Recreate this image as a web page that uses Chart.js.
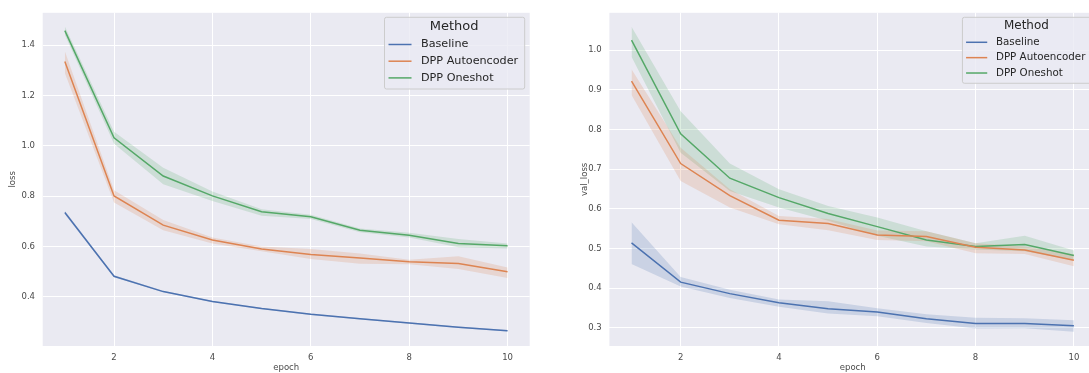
<!DOCTYPE html>
<html>
<head>
<meta charset="utf-8">
<script src="https://cdn.jsdelivr.net/npm/chart.js@4.4.1/dist/chart.umd.min.js"></script>
<style>
html,body{margin:0;padding:0;background:#fff;width:1089px;height:373px;overflow:hidden;position:relative}
canvas{position:absolute;top:0}
#lossChart{left:0}
#valChart{left:560px}
</style>
</head>
<body>
<canvas id="lossChart" width="545" height="373"></canvas>
<canvas id="valChart" width="545" height="373"></canvas>
<script>
// epochs and tick positions
const epochs = [1, 2, 3, 4, 5, 6, 7, 8, 9, 10];
const xTicks = [2, 4, 6, 8, 10];
const lossTicks = [0.4, 0.6, 0.8, 1.0, 1.2, 1.4];
const valTicks = [0.3, 0.4, 0.5, 0.6, 0.7, 0.8, 0.9, 1.0];
const methods = ['Baseline', 'DPP Autoencoder', 'DPP Oneshot'];

// training loss: mean with confidence band
const lossBaseline   = [0.735, 0.482, 0.421, 0.382, 0.354, 0.331, 0.313, 0.296, 0.279, 0.266];
const lossBaselineLo = [0.728, 0.478, 0.418, 0.379, 0.351, 0.328, 0.310, 0.293, 0.276, 0.263];
const lossBaselineHi = [0.742, 0.486, 0.424, 0.385, 0.357, 0.334, 0.316, 0.299, 0.282, 0.269];
const lossAuto   = [1.335, 0.801, 0.685, 0.626, 0.590, 0.568, 0.554, 0.540, 0.533, 0.500];
const lossAutoLo = [1.289, 0.775, 0.665, 0.612, 0.581, 0.550, 0.532, 0.530, 0.511, 0.475];
const lossAutoHi = [1.375, 0.823, 0.705, 0.636, 0.600, 0.590, 0.572, 0.547, 0.561, 0.517];
const lossOne   = [1.457, 1.032, 0.880, 0.801, 0.738, 0.718, 0.665, 0.645, 0.612, 0.603];
const lossOneLo = [1.441, 1.008, 0.847, 0.781, 0.722, 0.709, 0.657, 0.636, 0.597, 0.592];
const lossOneHi = [1.474, 1.056, 0.913, 0.818, 0.748, 0.726, 0.672, 0.655, 0.630, 0.612];

// validation loss
const valBaseline   = [0.514, 0.415, 0.386, 0.363, 0.348, 0.340, 0.323, 0.311, 0.311, 0.305];
const valBaselineLo = [0.461, 0.404, 0.375, 0.353, 0.336, 0.329, 0.312, 0.298, 0.299, 0.290];
const valBaselineHi = [0.566, 0.428, 0.396, 0.371, 0.367, 0.349, 0.334, 0.325, 0.324, 0.319];
const valAuto   = [0.922, 0.714, 0.633, 0.571, 0.563, 0.534, 0.530, 0.503, 0.496, 0.470];
const valAutoLo = [0.887, 0.670, 0.603, 0.561, 0.546, 0.521, 0.518, 0.488, 0.486, 0.455];
const valAutoHi = [0.952, 0.754, 0.649, 0.582, 0.574, 0.545, 0.543, 0.513, 0.505, 0.485];
const valOne   = [1.025, 0.789, 0.677, 0.628, 0.588, 0.555, 0.521, 0.505, 0.510, 0.482];
const valOneLo = [0.983, 0.741, 0.645, 0.603, 0.570, 0.532, 0.505, 0.497, 0.493, 0.470];
const valOneHi = [1.059, 0.846, 0.714, 0.649, 0.607, 0.578, 0.543, 0.513, 0.532, 0.495];

const palette = [[76, 114, 176], [221, 132, 82], [85, 168, 104]];
const FONT = '"DejaVu Sans", sans-serif';
const TEXT = '#262626';

const pts = ys => ys.map((y, i) => ({x: epochs[i], y}));
const rgb = (c, a) => `rgba(${c[0]},${c[1]},${c[2]},${a})`;

function series(i, mean, lo, hi){
  const c = palette[i];
  return [
    {label: methods[i] + ' hi', data: pts(hi), borderWidth: 0, pointRadius: 0, fill: '+1', backgroundColor: rgb(c, 0.2), order: 2},
    {label: methods[i] + ' lo', data: pts(lo), borderWidth: 0, pointRadius: 0, fill: false, order: 2},
    {label: methods[i], data: pts(mean), borderColor: rgb(c, 1), borderWidth: 1.5, pointRadius: 0, fill: false, order: 1, legend: true}
  ];
}

// grey panel behind the plot
const panel = {
  id: 'panel',
  beforeDraw(chart){
    const {ctx, chartArea: a} = chart;
    ctx.save();
    ctx.fillStyle = '#eaeaf2';
    ctx.fillRect(a.left, a.top, a.right - a.left, a.bottom - a.top);
    ctx.restore();
  }
};

// "Method" legend box in the upper right of the plot
const methodLegend = {
  id: 'methodLegend',
  afterDatasetsDraw(chart, args, o){
    const {ctx, chartArea: a} = chart;
    const s = o.scale;
    const items = chart.data.datasets.filter(d => d.legend);
    ctx.save();
    ctx.font = `${11.2 * s}px ${FONT}`;
    const textW = Math.max(...items.map(d => ctx.measureText(d.label).width));
    const w = 43 * s + textW, h = 71.7 * s;
    const x = a.right - 5.5 * s - w, y = a.top + 4;
    ctx.fillStyle = 'rgba(234,234,242,0.8)';
    ctx.strokeStyle = '#cccccc';
    ctx.lineWidth = 1;
    ctx.beginPath();
    ctx.roundRect(x + 0.5, y + 0.5, w, h, 2);
    ctx.fill();
    ctx.stroke();
    ctx.fillStyle = TEXT;
    ctx.textBaseline = 'middle';
    ctx.textAlign = 'center';
    ctx.font = `${13 * s}px ${FONT}`;
    ctx.fillText(o.title, x + w / 2, y + 10 * s);
    ctx.textAlign = 'left';
    ctx.font = `${11.2 * s}px ${FONT}`;
    items.forEach((d, i) => {
      const ry = y + (27.7 + 16.7 * i) * s;
      ctx.strokeStyle = d.borderColor;
      ctx.lineWidth = 1.5;
      ctx.beginPath();
      ctx.moveTo(x + 4.5 * s, ry);
      ctx.lineTo(x + 27.5 * s, ry);
      ctx.stroke();
      ctx.fillText(d.label, x + 37 * s, ry);
    });
    ctx.restore();
  }
};

function makeChart(id, yLabel, yTicks, yMin, yMax, datasets, box){
  new Chart(document.getElementById(id), {
    type: 'line',
    data: {datasets},
    plugins: [panel, methodLegend],
    options: {
      responsive: false,
      animation: false,
      devicePixelRatio: 1,
      layout: {padding: {top: 11, right: box.padRight, left: 0, bottom: 0}},
      plugins: {
        legend: {display: false},
        tooltip: {enabled: false},
        methodLegend: {title: 'Method', scale: box.legendScale}
      },
      scales: {
        x: {
          type: 'linear', min: 0.55, max: 10.45,
          afterBuildTicks: sc => { sc.ticks = xTicks.map(v => ({value: v})); },
          afterFit: sc => { sc.height = 27; },
          grid: {color: '#ffffff', lineWidth: 1, drawTicks: false},
          border: {display: false},
          ticks: {color: '#4a4a4a', padding: 6.6, font: {family: FONT, size: 8.5, lineHeight: 1.2}, callback: v => String(v), maxRotation: 0},
          title: {display: true, text: 'epoch', color: '#4a4a4a', font: {family: FONT, size: 8.5, lineHeight: 1}, padding: {top: 0, bottom: 0.5}}
        },
        y: {
          min: yMin, max: yMax,
          afterBuildTicks: sc => { sc.ticks = yTicks.map(v => ({value: v})); },
          afterFit: sc => { sc.width = box.axisWidth; },
          grid: {color: '#ffffff', lineWidth: 1, drawTicks: false},
          border: {display: false},
          ticks: {color: '#4a4a4a', padding: 7.7, font: {family: FONT, size: 8.5, lineHeight: 1.2}, callback: v => v.toFixed(1)},
          title: {display: true, text: yLabel, color: '#4a4a4a', font: {family: FONT, size: 8.5, lineHeight: 1.2}, padding: {top: box.titleTop, bottom: 0}}
        }
      }
    }
  });
}

makeChart('lossChart', 'loss', lossTicks, 0.205, 1.528, [
  ...series(0, lossBaseline, lossBaselineLo, lossBaselineHi),
  ...series(1, lossAuto, lossAutoLo, lossAutoHi),
  ...series(2, lossOne, lossOneLo, lossOneHi)
], {axisWidth: 42.7, padRight: 15.3, titleTop: 7.9, legendScale: 1});

makeChart('valChart', 'val_loss', valTicks, 0.254, 1.094, [
  ...series(0, valBaseline, valBaselineLo, valBaselineHi),
  ...series(1, valAuto, valAutoLo, valAutoHi),
  ...series(2, valOne, valOneLo, valOneHi)
], {axisWidth: 49.4, padRight: 9, titleTop: 19.9, legendScale: 0.92});
</script>
</body>
</html>
